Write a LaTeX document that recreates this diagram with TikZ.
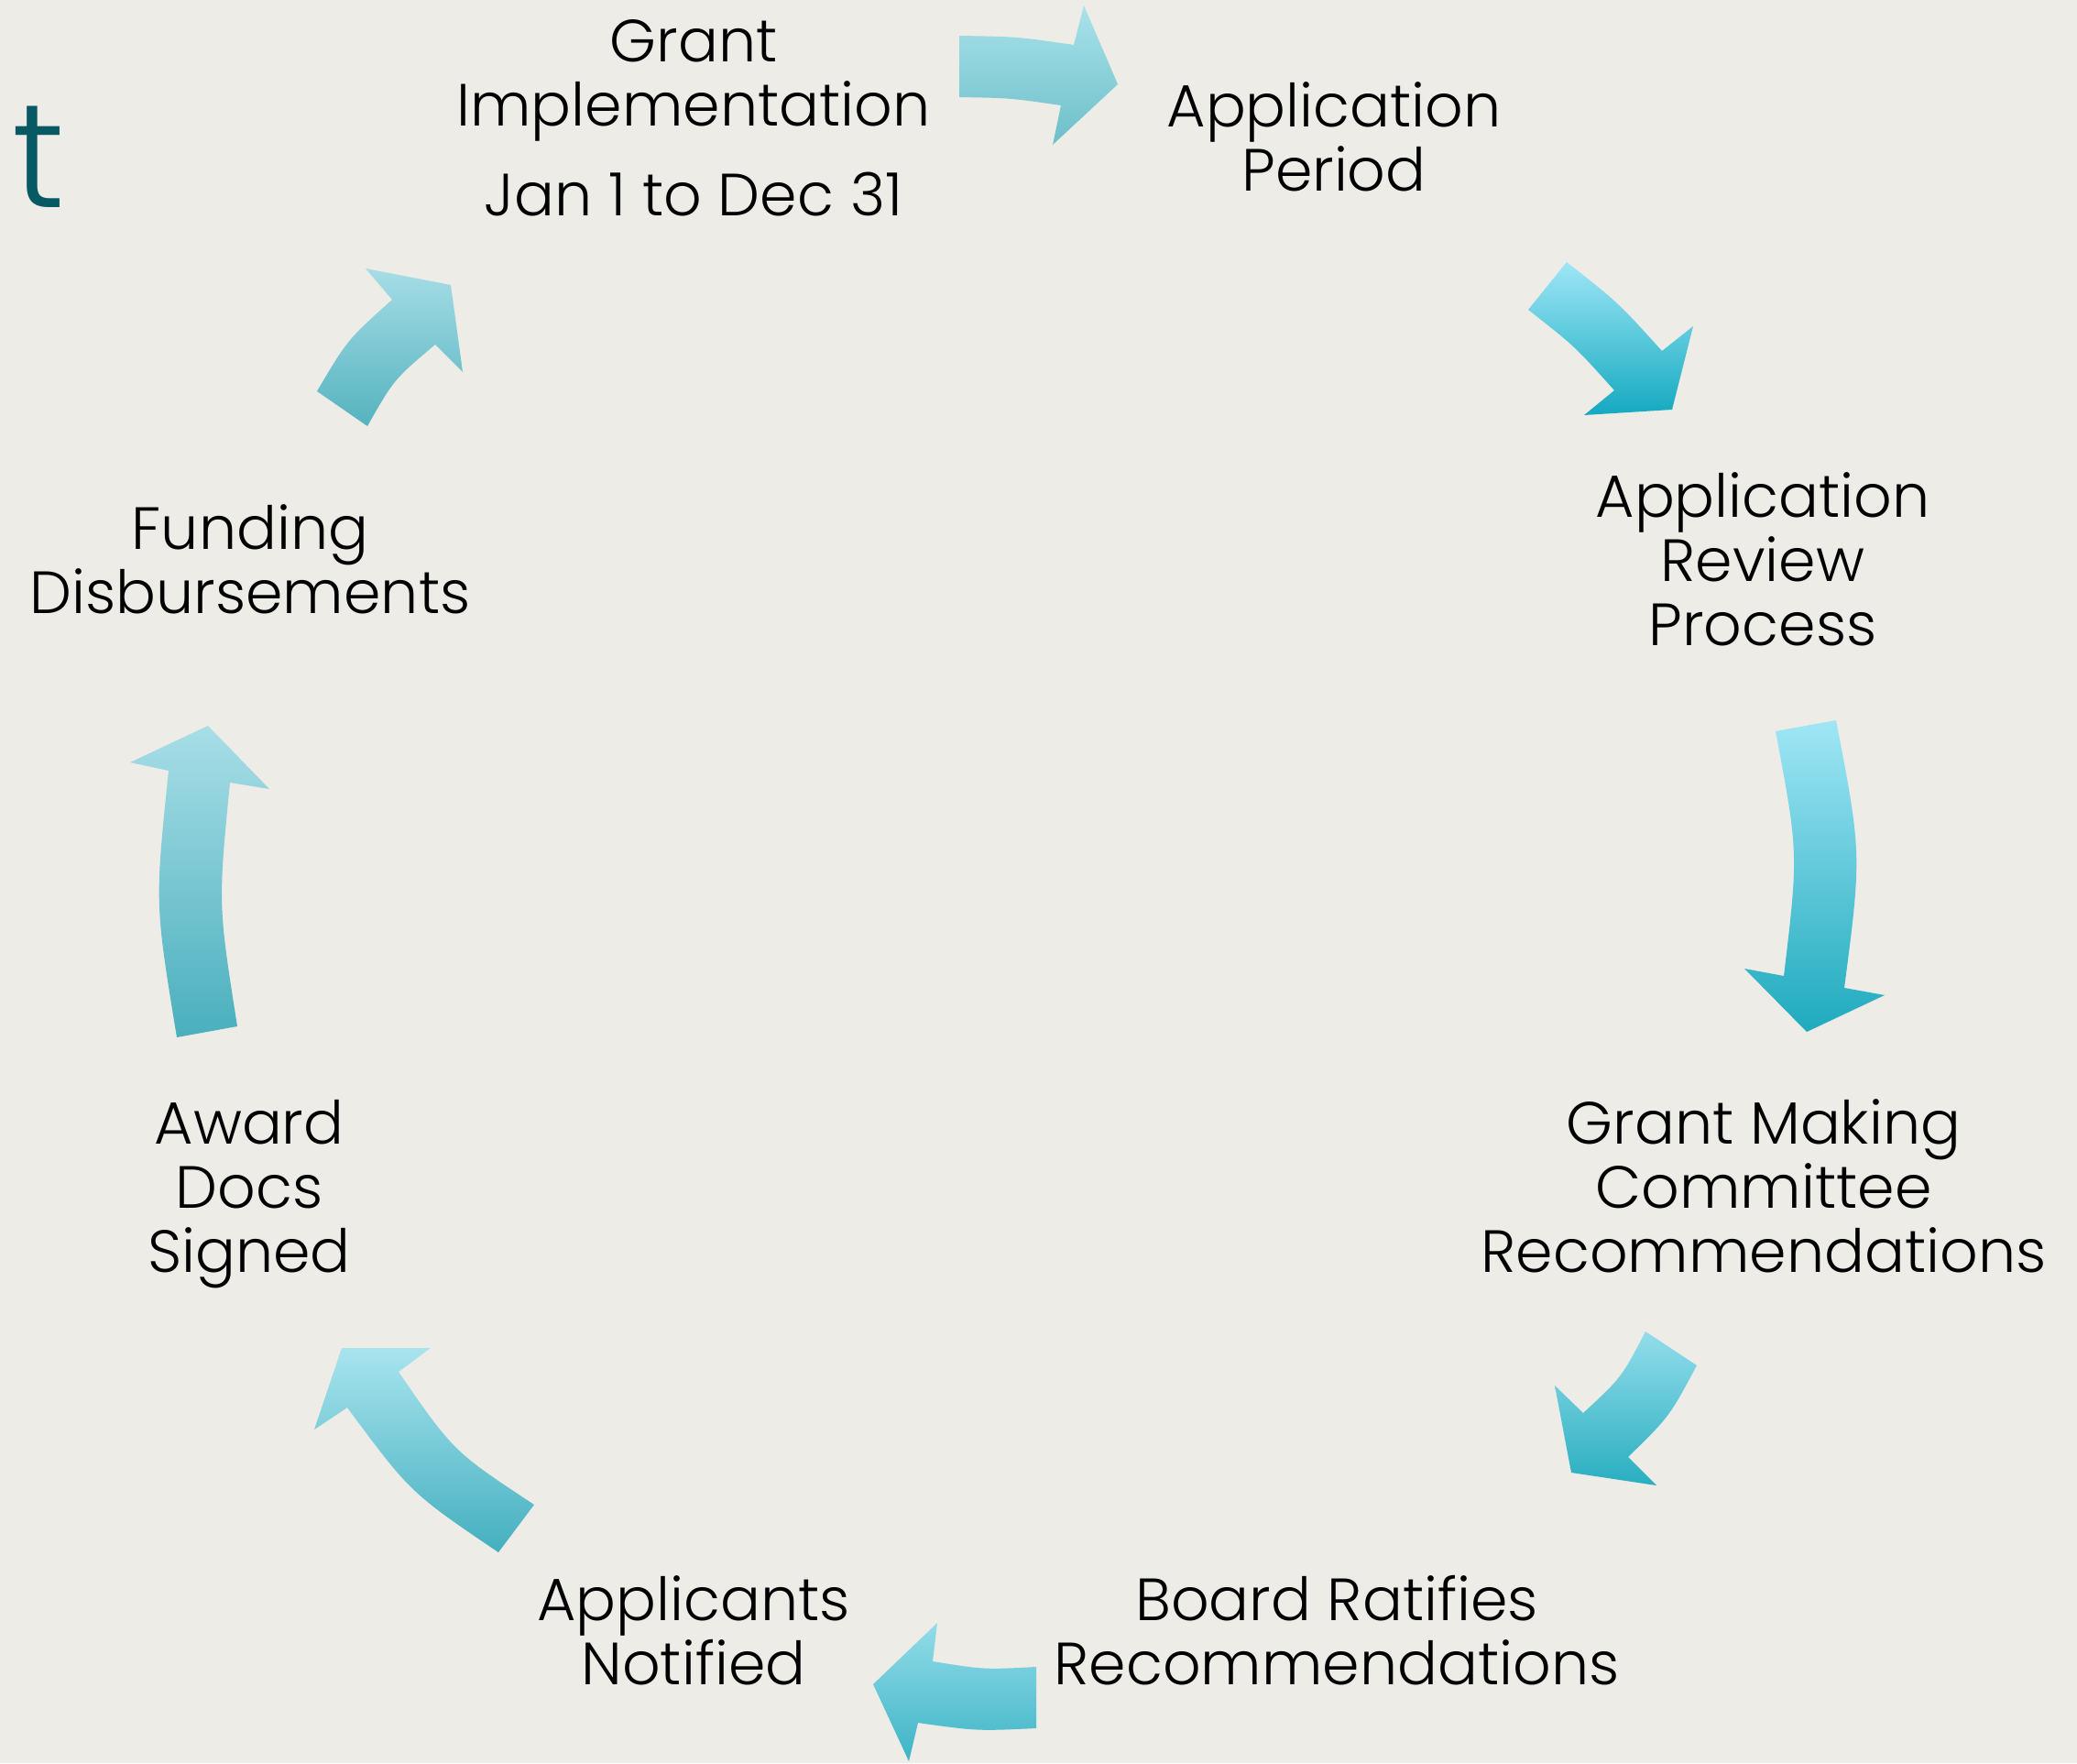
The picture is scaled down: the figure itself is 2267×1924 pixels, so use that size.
\documentclass[tikz,border=0pt]{standalone}
\usepackage{fontspec}
\IfFontExistsTF{Poppins Light}{\setmainfont{Poppins Light}}{\setmainfont{Poppins}}
\definecolor{bg}{HTML}{EDECE7}
\definecolor{titleteal}{HTML}{075A64}
\definecolor{aT}{HTML}{A9E2EB}\definecolor{aB}{HTML}{6DBFC8}
\definecolor{bT}{HTML}{9EE6F6}\definecolor{bB}{HTML}{14A9C0}
\definecolor{cT}{HTML}{A0E6F5}\definecolor{cB}{HTML}{1FAABE}
\definecolor{dT}{HTML}{93DDEB}\definecolor{dB}{HTML}{28AEC0}
\definecolor{eT}{HTML}{93DCE9}\definecolor{eB}{HTML}{3DB4C5}
\definecolor{fT}{HTML}{A8E4EE}\definecolor{fB}{HTML}{44AFBF}
\definecolor{gT}{HTML}{A8DEE7}\definecolor{gB}{HTML}{4AAFBD}
\definecolor{hT}{HTML}{A6DDE6}\definecolor{hB}{HTML}{55B3BF}
\begin{document}
\begin{tikzpicture}[x=0.01cm,y=-0.01cm,
  lbl/.style={align=center, anchor=base, inner sep=0pt, text=black,
    font=\fontsize{18.5}{19.9}\selectfont},
  arr/.style={draw=none}]
\fill[bg] (0,0) rectangle (2267,1924);
\useasboundingbox (0,0) rectangle (2267,1924);

% partial title letter
\node[anchor=base west, inner sep=0pt, text=titleteal,
  font=\fontsize{46}{50}\selectfont] (title) at (13,226) {t};

% labels (anchor = baseline of the last line)
\node[lbl] (gi) at (757,235) {Grant\\Implementation\\[7.7pt]Jan 1 to Dec 31};
\node[lbl] (ap) at (1456,208) {Application\\Period};
\node[lbl] (ar) at (1924,704) {Application\\Review\\Process};
\node[lbl] (gm) at (1925,1388) {Grant Making\\Committee\\Recommendations};
\node[lbl] (br) at (1459,1838) {Board Ratifies\\Recommendations};
\node[lbl] (an) at (757,1838) {Applicants\\Notified};
\node[lbl] (ad) at (272,1388) {Award\\Docs\\Signed};
\node[lbl] (fd) at (273,669) {Funding\\Disbursements};

% arrows
\path[arr, top color=aT, bottom color=aB]
  (1047,39) .. controls (1110,40) .. (1172,49) -- (1183,6) -- (1220,92)
  -- (1149,158) -- (1158,115) .. controls (1103,107) .. (1047,106) -- cycle;
\path[arr, top color=bT, bottom color=bB]
  (1710,286) -- (1668,338) .. controls (1719,378) .. (1762,426) -- (1729,453)
  -- (1825,447) -- (1848,356) -- (1814,383) .. controls (1766,330) .. (1710,286) -- cycle;
\path[arr, top color=cT, bottom color=cB]
  (1938,798) -- (2004,786) .. controls (2032,932) .. (2013,1078) -- (2057,1086)
  -- (1972,1126) -- (1904,1057) -- (1947,1065) .. controls (1963,931) .. (1938,798) -- cycle;
\path[arr, top color=dT, bottom color=dB]
  (1796,1453) -- (1852,1490) .. controls (1822,1546) .. (1777,1590) -- (1808,1621)
  -- (1715,1607) -- (1697,1512) -- (1728,1542) .. controls (1770,1503) .. (1796,1453) -- cycle;
\path[arr, top color=eT, bottom color=eB]
  (1131,1819) -- (1131,1886) .. controls (1066,1889) .. (1002,1880) -- (992,1922)
  -- (953,1838) -- (1023,1771) -- (1018,1813) .. controls (1074,1822) .. (1131,1819) -- cycle;
\path[arr, top color=fT, bottom color=fB]
  (583,1642) -- (544,1694) .. controls (448,1629) .. (379,1536) -- (343,1560)
  -- (373,1471) -- (470,1471) -- (435,1497) .. controls (495,1584) .. (583,1642) -- cycle;
\path[arr, top color=gT, bottom color=gB]
  (193,1132) -- (259,1120) .. controls (238,987) .. (251,854) -- (294,861)
  -- (227,792) -- (142,832) -- (184,841) .. controls (169,986) .. (193,1132) -- cycle;
\path[arr, top color=hT, bottom color=hB]
  (346,427) -- (401,465) .. controls (430,414) .. (475,376) -- (505,406)
  -- (492,311) -- (399,293) -- (428,327) .. controls (379,371) .. (346,427) -- cycle;
\end{tikzpicture}
\end{document}
